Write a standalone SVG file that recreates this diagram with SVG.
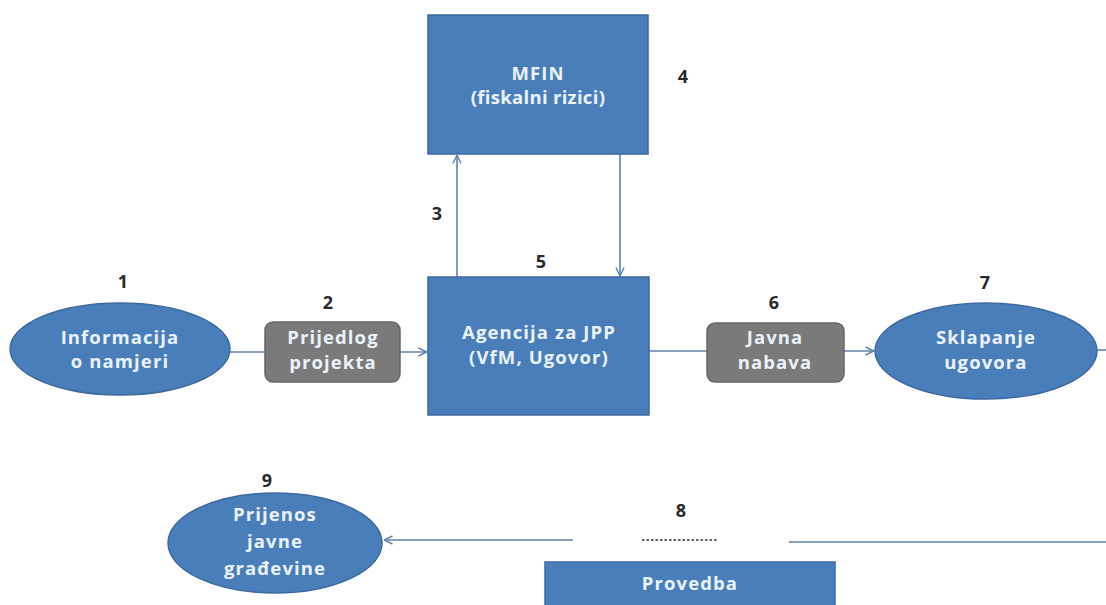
<svg xmlns="http://www.w3.org/2000/svg" width="1106" height="605" viewBox="0 0 1106 605">
<style>
.blue{fill:#4a7ebb;stroke:#3d6a9e;stroke-width:1.5}
.gray{fill:#7a7a7a;stroke:#676767;stroke-width:1.5}
.lbl{font-family:"Open Sans","DejaVu Sans",sans-serif;font-weight:bold;font-size:18.5px;letter-spacing:1.1px;fill:#eaf2fb;text-anchor:middle}
.num{font-family:"Open Sans","DejaVu Sans",sans-serif;font-weight:bold;font-size:18px;fill:#2a2a2a;text-anchor:middle}
.con{stroke:#5f82ad;stroke-width:1.6;fill:none}
</style>
<defs>
<marker id="arr" viewBox="0 0 10 10" refX="9.5" refY="5" markerWidth="10" markerHeight="10" markerUnits="userSpaceOnUse" orient="auto">
<path d="M1,1 L9.5,5 L1,9" fill="none" stroke="#5f82ad" stroke-width="1.4"/>
</marker>
</defs>
<rect width="1106" height="605" fill="#ffffff"/>
<g id="connectors">
<line class="con" x1="230" y1="352" x2="427" y2="352" marker-end="url(#arr)"/>
<line class="con" x1="457" y1="277" x2="457" y2="155" marker-end="url(#arr)"/>
<line class="con" x1="620" y1="154" x2="620" y2="276" marker-end="url(#arr)"/>
<line class="con" x1="649" y1="351" x2="874" y2="351" marker-end="url(#arr)"/>
<line class="con" x1="1097" y1="350" x2="1106" y2="350"/>
<line class="con" x1="1106" y1="542" x2="789" y2="542"/>
<line class="con" x1="573" y1="540" x2="384" y2="540" marker-end="url(#arr)"/>
<line x1="642" y1="540" x2="718" y2="540" stroke="#333" stroke-width="1.3" stroke-dasharray="2.5,2"/>
</g>
<g id="n4">
<rect class="blue" x="428" y="15" width="220" height="139"/>
<text class="lbl" x="538" y="80">MFIN</text>
<text class="lbl" x="538" y="104" style="letter-spacing:0.3px">(fiskalni rizici)</text>
<text class="num" x="683" y="83">4</text>
</g>
<g id="n5">
<rect class="blue" x="428" y="277" width="221" height="138"/>
<text class="lbl" x="539" y="339">Agencija za JPP</text>
<text class="lbl" x="539" y="364">(VfM, Ugovor)</text>
<text class="num" x="541" y="268">5</text>
</g>
<g id="n3"><text class="num" x="437" y="220">3</text></g>
<g id="n1">
<ellipse class="blue" cx="120" cy="349" rx="110" ry="46"/>
<text class="lbl" x="120" y="344">Informacija</text>
<text class="lbl" x="120" y="368">o namjeri</text>
<text class="num" x="123" y="288">1</text>
</g>
<g id="n2">
<rect class="gray" x="265" y="322" width="135" height="60" rx="8"/>
<text class="lbl" x="333" y="344">Prijedlog</text>
<text class="lbl" x="333" y="369">projekta</text>
<text class="num" x="328" y="309">2</text>
</g>
<g id="n6">
<rect class="gray" x="707" y="323" width="137" height="59" rx="8"/>
<text class="lbl" x="775" y="344">Javna</text>
<text class="lbl" x="775" y="369">nabava</text>
<text class="num" x="774" y="309">6</text>
</g>
<g id="n7">
<ellipse class="blue" cx="986" cy="351" rx="111" ry="48"/>
<text class="lbl" x="986" y="344">Sklapanje</text>
<text class="lbl" x="986" y="369">ugovora</text>
<text class="num" x="985" y="289">7</text>
</g>
<g id="n9">
<ellipse class="blue" cx="275" cy="543" rx="107" ry="50"/>
<text class="lbl" x="275" y="521">Prijenos</text>
<text class="lbl" x="275" y="548">javne</text>
<text class="lbl" x="275" y="575">građevine</text>
<text class="num" x="267" y="487">9</text>
</g>
<g id="n8">
<rect class="blue" x="545" y="562" width="290" height="50"/>
<text class="lbl" x="690" y="590">Provedba</text>
<text class="num" x="681" y="517">8</text>
</g>
</svg>
